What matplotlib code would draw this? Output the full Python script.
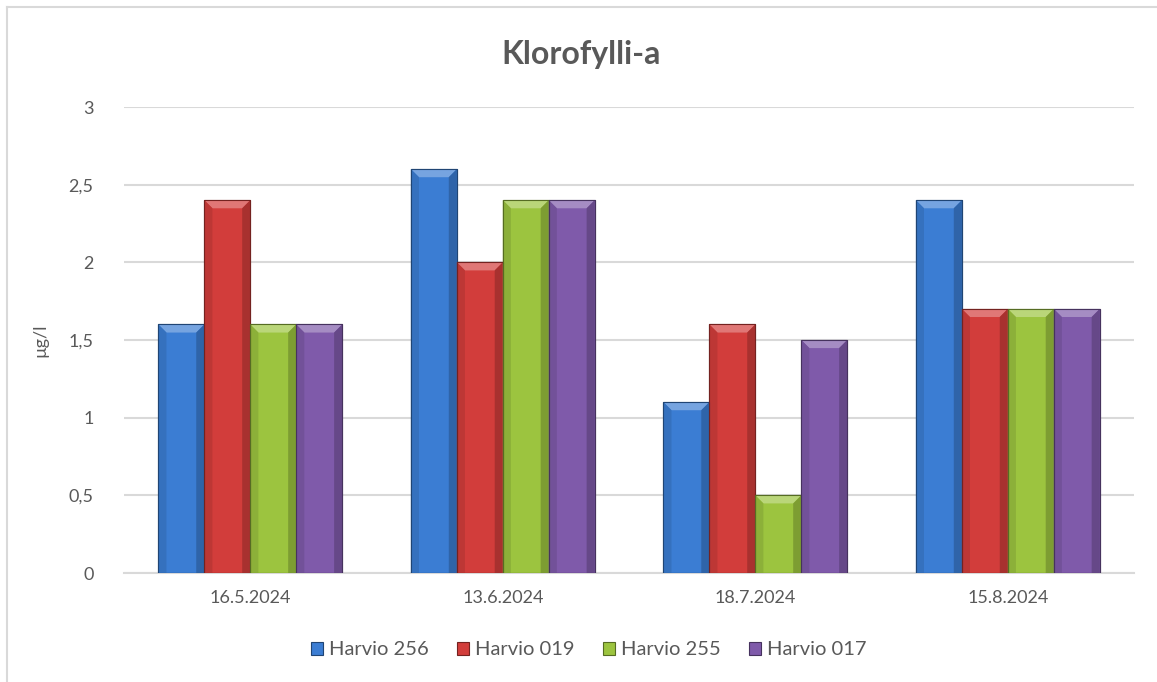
import numpy as np
import matplotlib
matplotlib.use("Agg")
import matplotlib.pyplot as plt
from matplotlib.patches import Polygon
from matplotlib.lines import Line2D
import matplotlib.colors as mcolors

# data
dates = ["16.5.2024", "13.6.2024", "18.7.2024", "15.8.2024"]
series = ["Harvio 256", "Harvio 019", "Harvio 255", "Harvio 017"]
harvio_256 = [1.6, 2.6, 1.1, 2.4]
harvio_019 = [2.4, 2.0, 1.6, 1.7]
harvio_255 = [1.6, 2.4, 0.5, 1.7]
harvio_017 = [1.6, 2.4, 1.5, 1.7]
values = [harvio_256, harvio_019, harvio_255, harvio_017]

colors = ["#3b7dd3", "#d23d3b", "#9cc43f", "#7f5aaa"]

plt.rcParams['font.family'] = ['Lato', 'DejaVu Sans']
txt = "#595959"

fig = plt.figure(figsize=(11.57, 6.82), dpi=100)
ax = fig.add_axes([0.1072, 0.1598, 0.8730, 0.6833])

x = np.arange(len(dates))
w = 0.182


def shade(c, f):
    r, g, b = mcolors.to_rgb(c)
    if f > 0:
        return (r + (1 - r) * f, g + (1 - g) * f, b + (1 - b) * f)
    return (r * (1 + f), g * (1 + f), b * (1 + f))


# bevel size in data units (about 8 px)
bev_x = 0.032
bev_y = 0.052
for i, (vals, c) in enumerate(zip(values, colors)):
    bars = ax.bar(x + (i - 1.5) * w, vals, w, color=c, edgecolor=shade(c, -0.45),
                  linewidth=0.8, label=series[i], zorder=3)
    for b in bars:
        x0 = b.get_x()
        x1 = x0 + b.get_width()
        h = b.get_height()
        # top bevel (light)
        ax.add_patch(Polygon([(x0, h), (x1, h), (x1 - bev_x, h - bev_y), (x0 + bev_x, h - bev_y)],
                             closed=True, facecolor=shade(c, 0.3), edgecolor='none', zorder=4))
        # side bevels (dark)
        ax.add_patch(Polygon([(x0, h), (x0 + bev_x, h - bev_y), (x0 + bev_x, 0), (x0, 0)],
                             closed=True, facecolor=shade(c, -0.1), edgecolor='none', zorder=4))
        ax.add_patch(Polygon([(x1, h), (x1 - bev_x, h - bev_y), (x1 - bev_x, 0), (x1, 0)],
                             closed=True, facecolor=shade(c, -0.2), edgecolor='none', zorder=4))
        ax.add_patch(Polygon([(x0, 0), (x1, 0), (x1, h), (x0, h)], closed=True,
                             facecolor='none', edgecolor=shade(c, -0.45), linewidth=0.8, zorder=5))

ax.set_xlim(-0.5, len(dates) - 0.5)
ax.set_ylim(0, 3)
ax.set_yticks([0, 0.5, 1, 1.5, 2, 2.5, 3])
ax.set_yticklabels(["0", "0,5", "1", "1,5", "2", "2,5", "3"], fontsize=13, color=txt)
ax.set_xticks(x)
ax.set_xticklabels(dates, fontsize=13, color=txt)
ax.tick_params(axis='both', length=0)
ax.tick_params(axis='y', pad=22)
ax.tick_params(axis='x', pad=12)
ax.grid(axis='y', color='#d9d9d9', linewidth=1.5, zorder=0)
for s in ['top', 'right', 'left']:
    ax.spines[s].set_visible(False)
ax.spines['bottom'].set_color('#d9d9d9')
ax.spines['bottom'].set_linewidth(1.5)

ax.set_ylabel("µg/l", fontsize=13, color=txt)
ax.yaxis.set_label_coords(-0.075, 0.5)

fig.text(0.502, 0.92, "Klorofylli-a", ha='center', va='center', fontsize=23,
         fontweight='bold', color=txt)

ax.legend(loc='center', bbox_to_anchor=(0.46, -0.165), ncol=4, frameon=False,
          fontsize=14.5, labelcolor=txt, handlelength=0.6, handleheight=0.6,
          handletextpad=0.3, columnspacing=1.4)

# light frame at top-left like the source
fig.add_artist(Line2D([0.006, 1.0], [0.99, 0.99], color='#d9d9d9', linewidth=1.5))
fig.add_artist(Line2D([0.006, 0.006], [0.0, 0.99], color='#d9d9d9', linewidth=1.5))

fig.savefig("out.png", dpi=100)
